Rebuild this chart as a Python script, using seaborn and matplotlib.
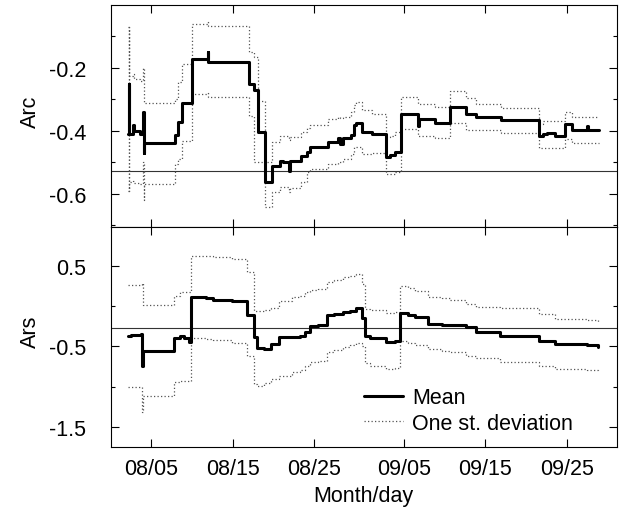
import numpy as np
import pandas as pd
import matplotlib
matplotlib.use("Agg")
import matplotlib.pyplot as plt
import matplotlib.dates as mdates
from matplotlib.ticker import MultipleLocator, FixedLocator
import seaborn as sns

# ---------------- data (days relative to 08/05) ----------------
top_days = [-2.78, -2.74, -2.70, -2.25, -2.05, -1.31, -0.94, -0.90, -0.82, 2.94, 3.27, 3.80,
            4.99, 6.95, 7.05, 11.99, 12.68, 13.09, 13.99, 14.88, 15.80, 16.20, 16.93, 17.00,
            18.40, 19.10, 19.50, 21.70, 22.90, 23.20, 23.50, 24.60, 24.90, 25.20, 25.90, 27.10,
            28.80, 29.30, 29.90, 30.70, 32.70, 32.90, 34.80, 36.70, 38.70, 39.90, 42.90, 47.60,
            48.10, 48.60, 49.60, 50.80, 51.60, 53.50, 53.60, 55.00]
arc_mean = [-0.41, -0.25, -0.41, -0.38, -0.40, -0.41, -0.34, -0.47, -0.438, -0.413, -0.372, -0.312,
            -0.171, -0.15, -0.18, -0.251, -0.269, -0.404, -0.561, -0.512, -0.494, -0.50, -0.526, -0.494,
            -0.481, -0.468, -0.452, -0.434, -0.423, -0.44, -0.423, -0.413, -0.381, -0.375, -0.404, -0.41,
            -0.484, -0.475, -0.466, -0.346, -0.383, -0.362, -0.375, -0.325, -0.346, -0.355, -0.364, -0.417,
            -0.41, -0.407, -0.417, -0.378, -0.396, -0.385, -0.396, -0.397]
arc_upper = [-0.59, -0.07, -0.224, -0.22, -0.235, -0.24, -0.20, -0.30, -0.312, -0.298, -0.243, -0.187,
             -0.06, -0.055, -0.066, -0.15, -0.166, -0.304, -0.50, -0.436, -0.415, -0.415, -0.43, -0.418,
             -0.404, -0.39, -0.381, -0.362, -0.357, -0.36, -0.355, -0.341, -0.317, -0.307, -0.332, -0.346,
             -0.42, -0.415, -0.404, -0.293, -0.314, -0.314, -0.325, -0.272, -0.296, -0.314, -0.328, -0.378,
             -0.367, -0.367, -0.367, -0.341, -0.357, -0.355, -0.357, -0.357]
arc_lower = [-0.07, -0.59, -0.563, -0.56, -0.565, -0.57, -0.50, -0.62, -0.57, -0.505, -0.49, -0.431,
             -0.283, -0.28, -0.291, -0.351, -0.50, -0.50, -0.642, -0.595, -0.579, -0.579, -0.595, -0.58,
             -0.563, -0.531, -0.521, -0.505, -0.50, -0.50, -0.489, -0.473, -0.452, -0.452, -0.473, -0.47,
             -0.537, -0.537, -0.53, -0.394, -0.415, -0.415, -0.423, -0.375, -0.396, -0.396, -0.406, -0.455,
             -0.455, -0.455, -0.455, -0.425, -0.438, -0.438, -0.438, -0.438]

bot_days = [-2.80, -2.45, -1.23, -1.10, -1.00, 2.86, 3.60, 4.09, 4.70, 4.90, 6.75, 7.57, 9.90,
            11.78, 12.68, 12.97, 13.90, 14.70, 15.70, 17.30, 18.30, 18.90, 19.50, 20.50, 21.60,
            22.50, 23.60, 24.40, 25.20, 25.90, 26.30, 26.90, 28.80, 29.90, 30.60, 31.50, 32.40,
            34.00, 35.70, 36.70, 38.70, 39.90, 42.80, 47.60, 49.60, 53.50, 54.90]
ars_mean = [-0.377, -0.36, -0.349, -0.742, -0.556, -0.402, -0.37, -0.40, -0.444, 0.107, 0.095, 0.08, 0.058,
            -0.112, -0.382, -0.526, -0.53, -0.473, -0.39, -0.385, -0.37, -0.32, -0.253, -0.24, -0.112,
            -0.10, -0.071, -0.06, -0.03, -0.154, -0.377, -0.402, -0.444, -0.43, -0.088, -0.11, -0.141,
            -0.224, -0.23, -0.24, -0.265, -0.328, -0.37, -0.432, -0.473, -0.48, -0.514]
ars_upper = [0.264, 0.264, 0.264, 0.29, 0.016, 0.127, 0.177, 0.177, 0.177, 0.624, 0.62, 0.61, 0.583,
             0.417, -0.059, -0.059, -0.05, -0.03, 0.065, 0.107, 0.12, 0.169, 0.2, 0.21, 0.301,
             0.32, 0.356, 0.37, 0.397, 0.273, -0.038, -0.05, -0.088, -0.08, 0.244, 0.22, 0.19,
             0.107, 0.095, 0.08, 0.024, -0.017, -0.03, -0.10, -0.162, -0.17, -0.216]
ars_lower = [-1.01, -1.01, -1.01, -1.32, -1.115, -0.94, -0.93, -0.93, -0.93, -0.398, -0.41, -0.42, -0.46,
             -0.618, -0.97, -0.99, -0.96, -0.90, -0.866, -0.817, -0.80, -0.742, -0.70, -0.68, -0.576,
             -0.55, -0.514, -0.49, -0.46, -0.501, -0.709, -0.74, -0.783, -0.77, -0.432, -0.46, -0.485,
             -0.535, -0.556, -0.57, -0.618, -0.651, -0.693, -0.742, -0.783, -0.79, -0.817]

arc_ref = -0.527
ars_ref = -0.27
tick_dates = ["2000-08-05", "2000-08-15", "2000-08-25", "2000-09-05", "2000-09-15", "2000-09-25"]
base = pd.Timestamp("2000-08-05")

# ---------------- figure ----------------
sns.set_theme(style="ticks")
plt.rcParams["font.family"] = ["Liberation Sans", "DejaVu Sans"]
plt.rcParams["text.color"] = "black"
plt.rcParams["axes.labelcolor"] = "black"
FS = 15.5

fig = plt.figure(figsize=(6.19, 5.10), dpi=100)
ax1 = fig.add_axes([111/619, 1-228/510, 506/619, 222/510])
ax2 = fig.add_axes([111/619, 1-448/510, 506/619, 220/510], sharex=ax1)

def draw(ax, days, mean, upper, lower, ref, legend):
    df = pd.DataFrame({"date": base + pd.to_timedelta(days, unit="D"),
                       "mean": mean, "upper": upper, "lower": lower})
    dot = dict(color="#555555", lw=0.9, linestyle=(0, (1, 1.8)), drawstyle="steps-post",
               estimator=None, sort=False)
    sns.lineplot(data=df, x="date", y="upper", ax=ax, label="One st. deviation" if legend else None, **dot)
    sns.lineplot(data=df, x="date", y="lower", ax=ax, **dot)
    sns.lineplot(data=df, x="date", y="mean", ax=ax, color="black", lw=2.2, drawstyle="steps-post",
                 estimator=None, sort=False, label="Mean" if legend else None)
    ax.axhline(ref, color="#333333", lw=0.8, zorder=1)
    ax.set_xlabel("")
    ax.set_ylabel("")
    for s in ax.spines.values():
        s.set_visible(True)
        s.set_color("black")
        s.set_linewidth(0.8)
    ax.tick_params(which="both", direction="in", top=True, right=True, width=0.8,
                   labelsize=FS, colors="black")
    ax.tick_params(which="major", length=6)
    ax.tick_params(which="minor", length=3)
    ax.tick_params(axis="y", pad=18)
    ax.tick_params(axis="x", pad=8)

draw(ax1, top_days, arc_mean, arc_upper, arc_lower, arc_ref, False)
draw(ax2, bot_days, ars_mean, ars_upper, ars_lower, ars_ref, True)

xlim = (base + pd.Timedelta(days=-4.91), base + pd.Timedelta(days=57.18))
ax1.set_xlim(*xlim)
ax1.xaxis.set_major_locator(FixedLocator(mdates.date2num(pd.to_datetime(tick_dates))))
ax1.xaxis.set_major_formatter(mdates.DateFormatter("%m/%d"))
ax1.tick_params(labelbottom=False)

ax1.set_ylim(-0.705, 0.0)
ax1.yaxis.set_major_locator(FixedLocator([-0.2, -0.4, -0.6]))
ax1.yaxis.set_minor_locator(FixedLocator([-0.1, -0.3, -0.5, -0.7]))
ax1.set_yticklabels(["-0.2", "-0.4", "-0.6"])

ax2.set_ylim(-1.75, 0.98)
ax2.yaxis.set_major_locator(FixedLocator([0.5, -0.5, -1.5]))
ax2.yaxis.set_minor_locator(FixedLocator([0.0, -1.0]))
ax2.set_yticklabels(["0.5", "-0.5", "-1.5"])

lg1 = ax1.get_legend()
if lg1 is not None:
    lg1.remove()
h, l = ax2.get_legend_handles_labels()
order = [l.index("Mean"), l.index("One st. deviation")]
ax2.legend([h[i] for i in order], [l[i] for i in order], loc="lower left",
           bbox_to_anchor=(0.5, 0.06), frameon=False, fontsize=FS, handlelength=1.8,
           handletextpad=0.45, labelspacing=0.2, borderpad=0, borderaxespad=0)

fig.text(30/619, 1-112/510, "Arc", rotation=90, ha="center", va="center", fontsize=FS)
fig.text(30/619, 1-332/510, "Ars", rotation=90, ha="center", va="center", fontsize=FS)
fig.text(363/619, 1-497/510, "Month/day", ha="center", va="center", fontsize=FS)

fig.savefig("out.png", dpi=100)
